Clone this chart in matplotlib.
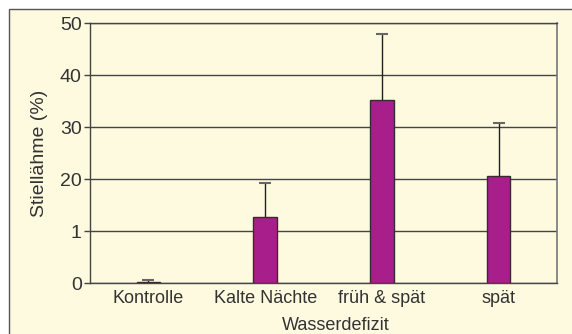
import matplotlib.pyplot as plt
from matplotlib.patches import Rectangle

# Werte
categories = ["Kontrolle", "Kalte Nächte", "früh & spät", "spät"]
values = [0.2, 12.7, 35.2, 20.6]
errors = [0.3, 6.5, 12.6, 10.1]
ytick_values = [0, 10, 20, 30, 40, 50]
ytick_labels = ["0", "1", "20", "30", "40", "50"]

BG = "#fefadf"
TXT = "#333333"
BAR = "#a81e8a"

plt.rcParams["font.family"] = ["Liberation Sans", "DejaVu Sans"]

fig = plt.figure(figsize=(5.72, 3.34), dpi=100)
fig.patch.set_facecolor("white")
# hellgelber Hintergrund mit Rahmen
bg = Rectangle((9 / 572, -0.01), 1.0, (334 - 9) / 334 + 0.01,
               transform=fig.transFigure, facecolor=BG,
               edgecolor="#555555", linewidth=1.0, zorder=-10)
fig.patches.append(bg)

ax = fig.add_axes([90 / 572, 1 - 283 / 334, (557 - 90) / 572, (283 - 23) / 334])
ax.set_facecolor(BG)

x = list(range(len(categories)))
tops = [v + e for v, e in zip(values, errors)]
ax.bar(x, values, width=0.2, color=BAR, edgecolor="#3a2a30", linewidth=1.0, zorder=3)
# Fehlerbalken nur nach oben
ax.vlines(x, values, tops, color="#222222", linewidth=1.0, zorder=2)
ax.scatter(x, tops, marker="_", s=70, color="#666666", linewidths=1.5, zorder=2)

ax.set_xlim(-0.5, len(categories) - 0.5)
ax.set_ylim(0, 50)
ax.set_yticks(ytick_values)
ax.set_yticklabels(ytick_labels)
ax.set_xticks(x)
ax.set_xticklabels(categories)
ax.yaxis.grid(True, color="#444444", linewidth=1.0, zorder=1)
ax.set_axisbelow(True)
ax.tick_params(axis="y", length=4, width=1.0, color="#444444", labelsize=14,
               labelcolor=TXT, pad=2)
ax.tick_params(axis="x", length=0, labelsize=13, labelcolor=TXT, pad=5)

for side in ["left", "top", "bottom"]:
    ax.spines[side].set_color("#444444")
    ax.spines[side].set_linewidth(1.0)
ax.spines["right"].set_color("#777777")
ax.spines["right"].set_linewidth(1.2)

fig.text(40 / 572, 1 - 153 / 334, "Stiellähme (%)", rotation=90, ha="center",
         va="center", fontsize=14, color=TXT)
fig.text(336 / 572, 1 - 325 / 334, "Wasserdefizit", ha="center", va="center",
         fontsize=13, color=TXT)

fig.savefig("out.png", dpi=100, facecolor=fig.get_facecolor())
